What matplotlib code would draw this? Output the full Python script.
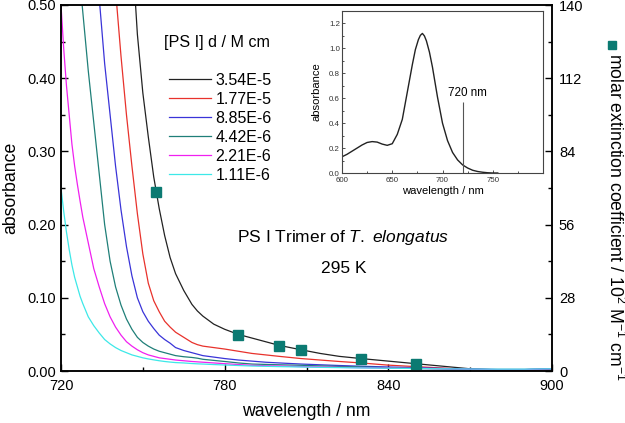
import numpy as np
import matplotlib
matplotlib.use('Agg')
import matplotlib.pyplot as plt
from matplotlib.ticker import MultipleLocator, FixedLocator, FormatStrFormatter
from matplotlib.lines import Line2D

plt.rcParams['font.family'] = ['Liberation Sans', 'DejaVu Sans']
plt.rcParams['mathtext.fontset'] = 'custom'
plt.rcParams['mathtext.rm'] = 'Liberation Sans'
plt.rcParams['mathtext.it'] = 'Liberation Sans:italic'

# ---- main spectra (absorbance) ----
wavelength = [720, 721, 722, 723, 724, 725, 726, 727, 728, 730, 732, 734, 736, 738, 740, 742, 744, 746,
              748, 750, 752, 754, 756, 758, 760, 762, 765, 768, 770, 772, 776, 780, 785,
              790, 795, 800, 808, 815, 822, 830, 840, 850, 860, 870, 880, 890, 900]

abs_354e5 = [7.0, 6.5, 6.0, 5.5, 5.0, 4.6, 4.2, 3.85, 3.5, 2.9, 2.4, 2.0, 1.65, 1.35, 1.1, 0.9, 0.73, 0.58,
             0.46, 0.38, 0.32, 0.265, 0.222, 0.185, 0.155, 0.133, 0.11, 0.091, 0.082, 0.075, 0.064, 0.057, 0.050,
             0.045, 0.040, 0.035, 0.029, 0.024, 0.020, 0.017, 0.0135, 0.010, 0.0065, 0.003, 0.0015, 0.001, 0.002]
abs_177e5 = [3.5, 3.25, 3.0, 2.75, 2.5, 2.3, 2.1, 1.92, 1.75, 1.45, 1.2, 0.98, 0.8, 0.65, 0.52, 0.43, 0.35, 0.28,
             0.215, 0.16, 0.12, 0.096, 0.081, 0.068, 0.060, 0.053, 0.046, 0.039, 0.036, 0.034, 0.032, 0.030, 0.027,
             0.024, 0.022, 0.020, 0.017, 0.015, 0.013, 0.011, 0.008, 0.006, 0.004, 0.002, 0.001, 0.001, 0.002]
abs_885e6 = [1.75, 1.62, 1.5, 1.37, 1.25, 1.15, 1.05, 0.96, 0.88, 0.73, 0.61, 0.51, 0.42, 0.35, 0.28, 0.22, 0.17, 0.13,
             0.10, 0.081, 0.068, 0.058, 0.049, 0.043, 0.038, 0.032, 0.028, 0.025, 0.023, 0.021, 0.019, 0.017, 0.015,
             0.0135, 0.012, 0.011, 0.0095, 0.0085, 0.0075, 0.0065, 0.0055, 0.0045, 0.0035, 0.0025, 0.002, 0.002, 0.003]
abs_442e6 = [0.97, 0.89, 0.82, 0.75, 0.69, 0.63, 0.58, 0.53, 0.49, 0.41, 0.34, 0.27, 0.20, 0.15, 0.115, 0.09, 0.071, 0.057,
             0.046, 0.039, 0.034, 0.030, 0.027, 0.025, 0.023, 0.021, 0.0195, 0.0185, 0.0175, 0.016, 0.0145, 0.013, 0.011,
             0.0095, 0.009, 0.0085, 0.0078, 0.007, 0.0063, 0.0055, 0.0045, 0.0035, 0.0028, 0.0022, 0.002, 0.002, 0.003]
abs_221e6 = [0.50, 0.44, 0.39, 0.35, 0.31, 0.28, 0.255, 0.232, 0.21, 0.175, 0.14, 0.115, 0.092, 0.074, 0.060, 0.049, 0.040, 0.034,
             0.029, 0.025, 0.022, 0.020, 0.018, 0.017, 0.016, 0.015, 0.014, 0.013, 0.0125, 0.012, 0.011, 0.010, 0.0088,
             0.0078, 0.0072, 0.0068, 0.006, 0.0055, 0.005, 0.0045, 0.004, 0.0035, 0.003, 0.0025, 0.002, 0.002, 0.003]
abs_111e6 = [0.25, 0.218, 0.19, 0.166, 0.145, 0.128, 0.115, 0.102, 0.092, 0.074, 0.062, 0.052, 0.043, 0.037, 0.032, 0.028, 0.025, 0.022,
             0.020, 0.018, 0.0165, 0.0152, 0.014, 0.013, 0.0122, 0.0115, 0.011, 0.0102, 0.0098, 0.0095, 0.0088, 0.0082, 0.0075,
             0.0068, 0.0064, 0.006, 0.0055, 0.005, 0.0046, 0.0042, 0.0038, 0.0034, 0.003, 0.0027, 0.0025, 0.0025, 0.003]

series = [abs_354e5, abs_177e5, abs_885e6, abs_442e6, abs_221e6, abs_111e6]
labels = ['3.54E-5', '1.77E-5', '8.85E-6', '4.42E-6', '2.21E-6', '1.11E-6']
colors = ['#222222', '#e8322c', '#3a34d8', '#1f7f78', '#f020f0', '#3de8e8']

# molar extinction coefficient points (10^2 M^-1 cm^-1)
eps_wl = [755, 785, 800, 808, 830, 850]
eps_val = [68.5, 13.8, 9.4, 7.9, 4.7, 2.8]

# ---- inset: full absorption spectrum ----
inset_wl = [600, 605, 610, 615, 620, 625, 630, 635, 640, 645, 650, 655, 660, 665, 670, 673,
            676, 678, 680, 682, 684, 687, 690, 695, 700, 705, 710, 715, 720, 725, 730, 735,
            740, 745, 750, 755]
inset_abs = [0.13, 0.15, 0.175, 0.20, 0.225, 0.245, 0.252, 0.248, 0.232, 0.222, 0.235, 0.31,
             0.43, 0.65, 0.87, 0.99, 1.07, 1.105, 1.12, 1.10, 1.06, 0.97, 0.85, 0.61, 0.40,
             0.26, 0.165, 0.105, 0.065, 0.04, 0.022, 0.012, 0.006, 0.002, 0.0, 0.0]

teal = '#0b7a72'

fig = plt.figure(figsize=(6.25, 4.23), dpi=100)
ax = fig.add_axes([61/625, 1-371/423, 491/625, 366/423])

for y, lab, c in zip(series, labels, colors):
    ax.plot(wavelength, y, color=c, lw=0.9, label=lab)

ax.set_xlim(720, 900)
ax.set_ylim(0, 0.5)
ax.xaxis.set_major_locator(MultipleLocator(60))
ax.xaxis.set_minor_locator(MultipleLocator(30))
ax.yaxis.set_major_locator(MultipleLocator(0.1))
ax.yaxis.set_minor_locator(MultipleLocator(0.05))
ax.yaxis.set_major_formatter(FormatStrFormatter('%.2f'))
ax.tick_params(which='both', direction='in', labelsize=10.5, width=1.0, top=False, right=False)
ax.tick_params(which='major', length=5)
ax.tick_params(which='minor', length=3)
ax.tick_params(axis='x', pad=6)
for s in ax.spines.values():
    s.set_linewidth(1.1)
ax.set_xlabel('wavelength / nm', fontsize=12.7, labelpad=7)
ax.set_ylabel('absorbance', fontsize=12.7, labelpad=6)

ax2 = ax.twinx()
ax2.plot(eps_wl, eps_val, 's', color=teal, ms=6.5, mec=teal)
ax2.set_ylim(0, 140)
ax2.yaxis.set_major_locator(MultipleLocator(28))
ax2.yaxis.set_minor_locator(MultipleLocator(14))
ax2.tick_params(which='both', direction='in', labelsize=10.5, width=1.0, pad=5)
ax2.tick_params(which='major', length=5)
ax2.tick_params(which='minor', length=3)
for s in ax2.spines.values():
    s.set_linewidth(1.1)

# right axis label with its symbol
fig.text(615/625, 1-53/423, 'molar extinction coefficient / 10$^2$ M$^{-1}$ cm$^{-1}$',
         rotation=270, ha='center', va='top', fontsize=12.7)
fig.add_artist(Line2D([612/625], [1-45/423], marker='s', color=teal, ms=5.5,
                      transform=fig.transFigure))

# legend
fig.text(217/625, 1-42/423, '[PS I] d / M cm', ha='center', va='center', fontsize=11.6)
ax.legend(loc='upper left', bbox_to_anchor=(169/625, 1-73/423), bbox_transform=fig.transFigure,
          frameon=False, fontsize=11.5, handlelength=2.6, handletextpad=0.3,
          labelspacing=0.25, borderpad=0, borderaxespad=0)

ax.text(0.575, 0.365, 'PS I Trimer of $\\mathit{T.\\ elongatus}$', transform=ax.transAxes,
        ha='center', va='center', fontsize=12.5)
ax.text(0.575, 0.28, '295 K', transform=ax.transAxes, ha='center', va='center', fontsize=12.5)

# inset
axi = fig.add_axes([342/625, 1-173/423, 201/625, 162/423])
axi.plot(inset_wl, inset_abs, color='#222222', lw=1.0)
axi.vlines(720, 0, 0.57, color='#555555', lw=0.8)
axi.text(725, 0.64, '720 nm', ha='center', va='center', fontsize=8.4)
axi.set_xlim(600, 800)
axi.set_ylim(0, 1.3)
axi.xaxis.set_major_locator(FixedLocator([600, 650, 700, 750]))
axi.xaxis.set_minor_locator(FixedLocator([625, 675, 725, 775]))
axi.yaxis.set_major_locator(MultipleLocator(0.2))
axi.yaxis.set_minor_locator(MultipleLocator(0.1))
axi.yaxis.set_major_formatter(FormatStrFormatter('%.1f'))
axi.xaxis.set_major_formatter(FormatStrFormatter('%d'))
axi.tick_params(which='both', direction='in', labelsize=5.7, width=0.6, pad=1.5, colors='#333333')
axi.tick_params(axis='x', pad=3)
axi.tick_params(which='major', length=2.5)
axi.tick_params(which='minor', length=1.5)
for s in axi.spines.values():
    s.set_linewidth(0.8)
    s.set_color('#444444')
axi.set_xlabel('wavelength / nm', fontsize=8.1, labelpad=1.5)
axi.set_ylabel('absorbance', fontsize=8.1, labelpad=5)

fig.savefig('out.png', dpi=100)
